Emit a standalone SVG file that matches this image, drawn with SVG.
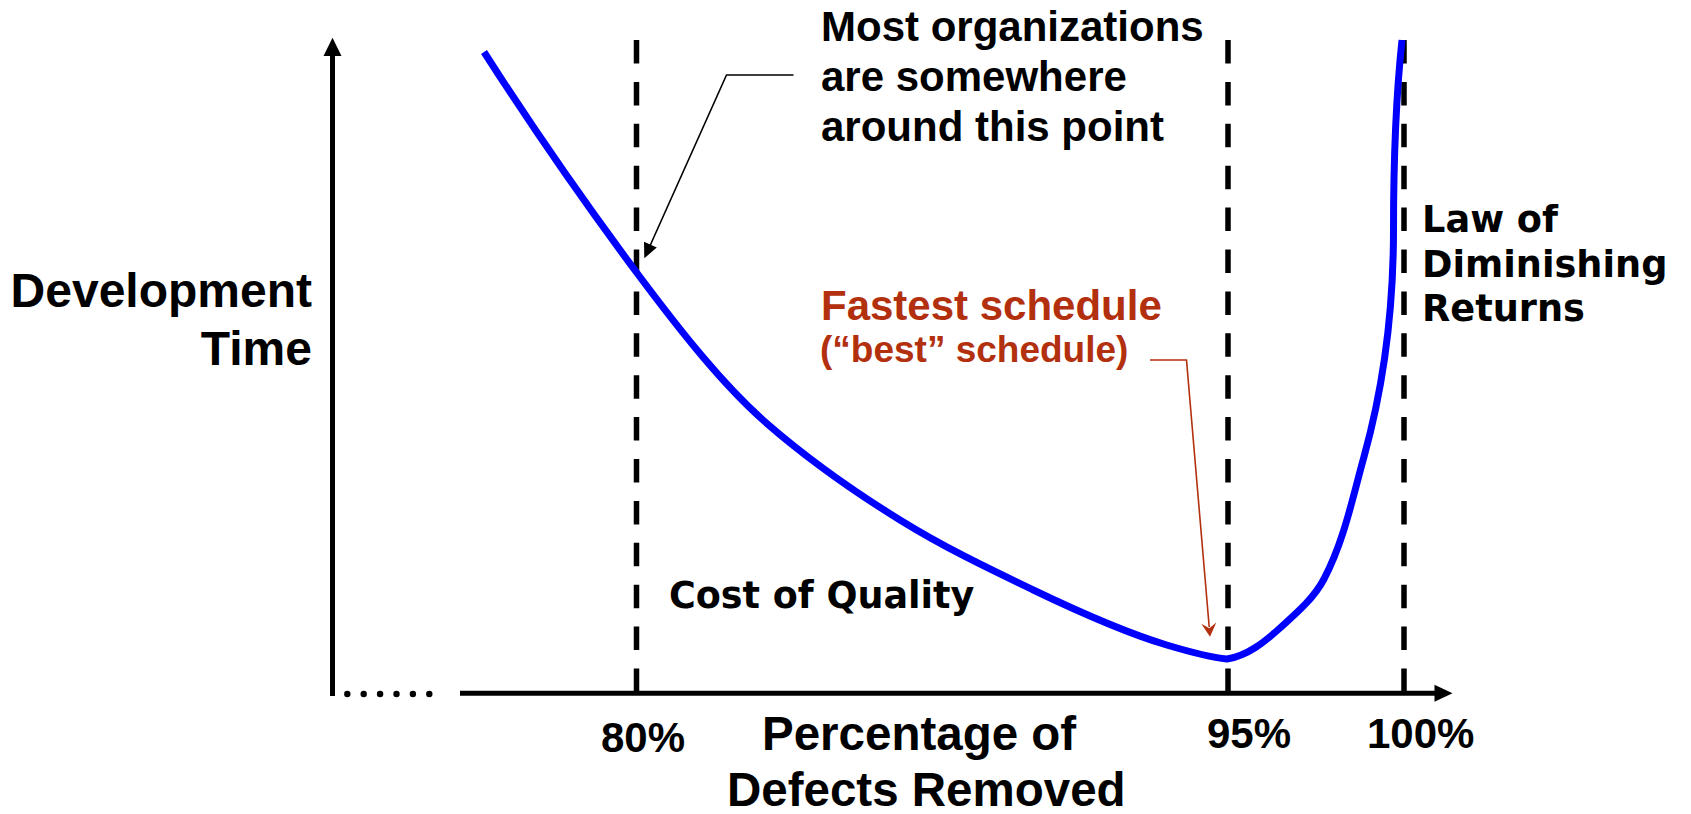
<svg xmlns="http://www.w3.org/2000/svg" width="1691" height="814" viewBox="0 0 1691 814">
<style>
.arial{font-family:"Liberation Sans",Arial,sans-serif;font-weight:bold;fill:#000}
.verd{font-family:"DejaVu Sans",Verdana,sans-serif;font-weight:bold;fill:#000}
.red{fill:#B2300E}
.dash{stroke:#000;stroke-width:5.5;stroke-dasharray:23.5 18.4;fill:none}
.axis{stroke:#000;stroke-width:5;fill:none}
</style>
<rect width="1691" height="814" fill="#fff"/>
<g id="axes">
<line class="axis" x1="332.5" y1="696" x2="332.5" y2="54"/>
<polygon points="332.5,37.7 341.5,56 323.5,56" fill="#000"/>
<line class="axis" x1="460" y1="693.3" x2="1436" y2="693.3"/>
<polygon points="1452.5,693.3 1434.5,684.8 1434.5,701.8" fill="#000"/>
<g fill="#000">
<circle cx="347.3" cy="694" r="3.2"/>
<circle cx="363.7" cy="694" r="3.2"/>
<circle cx="380.1" cy="694" r="3.2"/>
<circle cx="396.5" cy="694" r="3.2"/>
<circle cx="412.9" cy="694" r="3.2"/>
<circle cx="429.3" cy="694" r="3.2"/>
</g>
</g>
<g id="gridlines">
<line class="dash" x1="636.5" y1="40" x2="636.5" y2="693"/>
<line class="dash" x1="1228" y1="40" x2="1228" y2="693"/>
<line class="dash" x1="1404" y1="40" x2="1404" y2="693"/>
</g>
<g id="curve">
<path fill="none" stroke="#0000FF" stroke-width="7" d="M484,52 C535,131.56 586,204.66 637,273 C680.23,330.93 723.47,385.69 766.7,423.3 C811.13,461.96 855.57,492.45 900,520 C944.43,547.55 988.87,568.67 1033.3,590 C1077.77,611.34 1122.23,631.66 1166.7,645 C1186.8,651.03 1206.9,656.99 1227,659 C1247.3,656 1264.8,641.7 1280,628 C1296.3,613.3 1313.75,598.5 1324,579 C1344,541 1352.5,498 1364,456.7 C1384.4,383.3 1393.5,306.2 1393.5,230 C1393.5,166.6 1395.3,103 1402,40"/>
</g>
<g id="connectors">
<polyline points="793.5,75 726.5,75 649,248" fill="none" stroke="#000" stroke-width="1.6"/>
<polygon points="644.3,258.3 656.8,247.5 644,241.7" fill="#000"/>
<polyline points="1150,360 1186.5,360 1209.2,627" fill="none" stroke="#B2300E" stroke-width="1.6"/>
<polygon points="1210,636.7 1216.3,622.6 1209.3,628.2 1201.3,623.8" fill="#B2300E"/>
</g>
<g id="label-ytitle">
<text class="arial" font-size="48" text-anchor="end" x="312" y="307">Development</text>
<text class="arial" font-size="48" text-anchor="end" x="312" y="365">Time</text>
</g>
<g id="label-most">
<text class="arial" font-size="42" x="821" y="41">Most organizations</text>
<text class="arial" font-size="42" x="821" y="91">are somewhere</text>
<text class="arial" font-size="42" x="821" y="140.5">around this point</text>
</g>
<g id="label-fastest">
<text class="arial red" font-size="42" x="821" y="319.5">Fastest schedule</text>
<text class="arial red" font-size="37" x="820" y="362">(“best” schedule)</text>
</g>
<g id="label-law">
<text class="verd" font-size="36.7" x="1422" y="231.5">Law of</text>
<text class="verd" font-size="36.7" x="1422" y="276.5">Diminishing</text>
<text class="verd" font-size="36.7" x="1422" y="321">Returns</text>
</g>
<g id="label-cost">
<text class="verd" font-size="36.5" x="669" y="608">Cost of Quality</text>
</g>
<g id="label-xticks">
<text class="arial" font-size="42" x="601" y="752">80%</text>
<text class="arial" font-size="42" x="1207" y="748">95%</text>
<text class="arial" font-size="42" x="1367" y="748">100%</text>
</g>
<g id="label-xtitle">
<text class="arial" font-size="47.5" x="762" y="750">Percentage of</text>
<text class="arial" font-size="47.5" x="727" y="806">Defects Removed</text>
</g>
</svg>
